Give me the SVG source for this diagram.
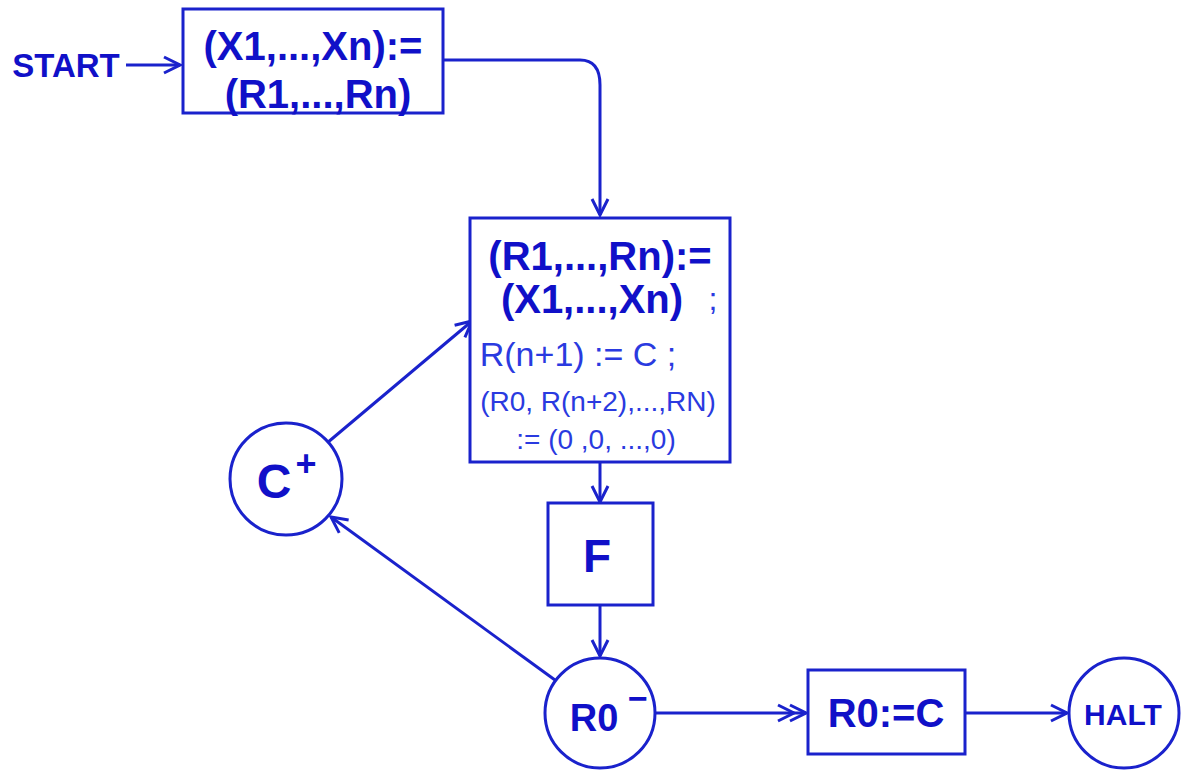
<svg xmlns="http://www.w3.org/2000/svg" width="1183" height="775" viewBox="0 0 1183 775">
<style>
.s{fill:none;stroke:#1a22cc;stroke-width:3}
.n{fill:#fff;stroke:#1a22cc;stroke-width:3}
.b{font-family:"Liberation Sans",Arial,sans-serif;font-weight:bold;fill:#1010c8;text-anchor:middle}
.t{font-family:"Liberation Sans",Arial,sans-serif;fill:#2a3ae0;text-anchor:middle}
</style>
<defs>
<marker id="a" viewBox="0 0 20 20" refX="18" refY="10" markerWidth="20" markerHeight="20" markerUnits="userSpaceOnUse" orient="auto">
<path d="M2 2 L18 10 L2 18" fill="none" stroke="#1a22cc" stroke-width="3"/>
</marker>
<marker id="d" viewBox="0 0 32 20" refX="30" refY="10" markerWidth="32" markerHeight="20" markerUnits="userSpaceOnUse" orient="auto">
<path d="M2 2 L18 10 L2 18 M14 2 L30 10 L14 18" fill="none" stroke="#1a22cc" stroke-width="3"/>
</marker>
</defs>
<rect width="1183" height="775" fill="#fff"/>
<g id="connectors">
<path class="s" d="M126 65 L180 65" marker-end="url(#a)"/>
<path class="s" d="M443 60 L580 60 Q600 60 600 85 L600 215" marker-end="url(#a)"/>
<path class="s" d="M600 462 L600 502" marker-end="url(#a)"/>
<path class="s" d="M600 605 L600 656" marker-end="url(#a)"/>
<path class="s" d="M555 680 L331 517" marker-end="url(#a)"/>
<path class="s" d="M327 443 L472 321" marker-end="url(#a)"/>
<path class="s" d="M655 713 L806 713" marker-end="url(#d)"/>
<path class="s" d="M965 713 L1067 713" marker-end="url(#a)"/>
</g>
<g id="start"><text class="b" x="66" y="77" font-size="33">START</text></g>
<g id="box1">
<rect class="n" x="183" y="9" width="260" height="104"/>
<text class="b" x="313" y="60" font-size="40">(X1,...,Xn):=</text>
<text class="b" x="318" y="108" font-size="40">(R1,...,Rn)</text>
</g>
<g id="box2">
<rect class="n" x="470" y="218" width="260" height="244"/>
<text class="b" x="600" y="270" font-size="40">(R1,...,Rn):=</text>
<text class="b" x="592" y="313" font-size="40">(X1,...,Xn)</text>
<text class="t" x="713" y="310" font-size="32">;</text>
<text class="t" x="578" y="366" font-size="34">R(n+1) := C ;</text>
<text class="t" x="598" y="411" font-size="28">(R0, R(n+2),...,RN)</text>
<text class="t" x="596" y="449" font-size="28">:= (0 ,0, ...,0)</text>
</g>
<g id="f">
<rect class="n" x="548" y="503" width="105" height="102"/>
<text class="b" x="597" y="572" font-size="46">F</text>
</g>
<g id="rminus">
<circle class="n" cx="600" cy="713" r="55"/>
<text class="b" x="594" y="731" font-size="38">R0</text>
<text class="b" x="638" y="710" font-size="34">−</text>
</g>
<g id="cplus">
<circle class="n" cx="286" cy="479" r="56"/>
<text class="b" x="274" y="498" font-size="48">C</text>
<text class="b" x="306" y="476" font-size="36">+</text>
</g>
<g id="r0c">
<rect class="n" x="808" y="670" width="157" height="84"/>
<text class="b" x="886" y="727" font-size="40">R0:=C</text>
</g>
<g id="halt">
<circle class="n" cx="1124" cy="713" r="55"/>
<text class="b" x="1123" y="725" font-size="30">HALT</text>
</g>
</svg>
